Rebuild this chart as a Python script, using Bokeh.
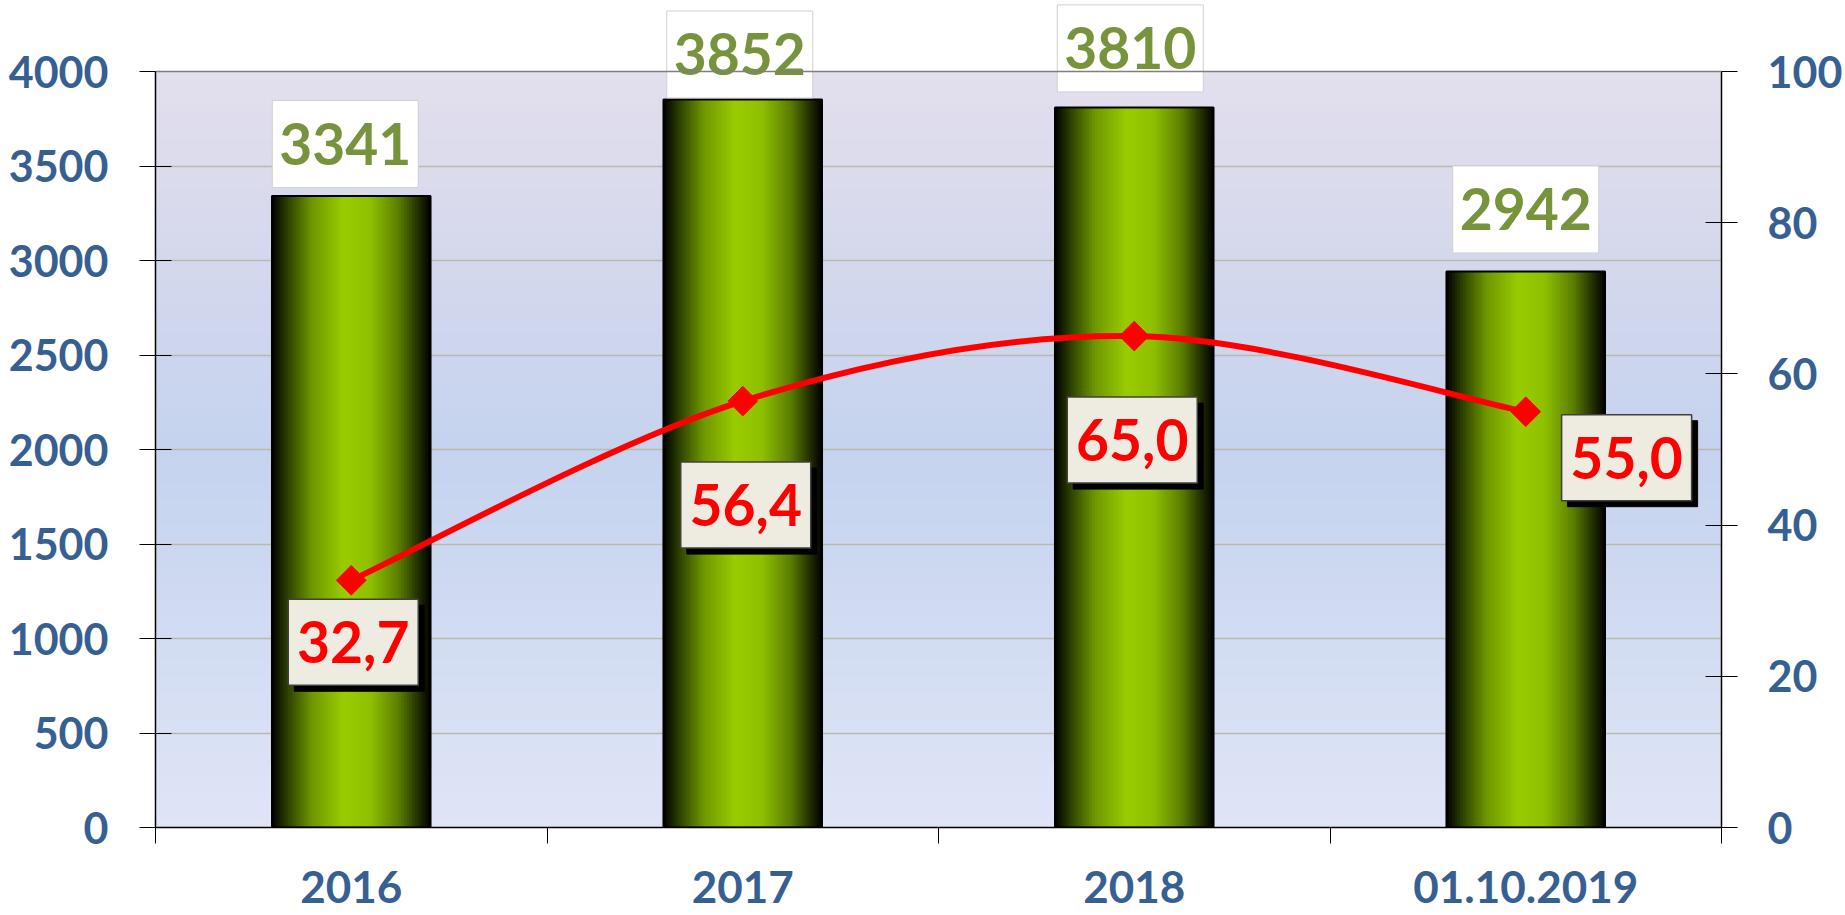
import numpy as np
from bokeh.plotting import figure
from bokeh.models import Range1d, LinearAxis, FixedTicker, Span
from bokeh.core.properties import value
from bokeh.embed import file_html
from bokeh.resources import INLINE

# ---------------- data ----------------
categories = ["2016", "2017", "2018", "01.10.2019"]
counts = [3341, 3852, 3810, 2942]
shares = [32.7, 56.4, 65.0, 55.0]
share_labels = ["32,7", "56,4", "65,0", "55,0"]
left_ticks = [0, 500, 1000, 1500, 2000, 2500, 3000, 3500, 4000]
right_ticks = [0, 20, 40, 60, 80, 100]

# ---------------- style / layout ----------------
W, H = 1845, 915
B_LEFT, B_RIGHT, B_BOTTOM = 155, 122, 88
TOP_GAP = 71                       # px between canvas top and the 4000 level
FRAME_H = H - B_BOTTOM
PLOT_H = FRAME_H - TOP_GAP
Y_MAX, R_MAX = 4000, 100
PX_Y = PLOT_H / Y_MAX
PX_R = PLOT_H / R_MAX
BAR_W = 0.405
BLUE = "#376092"
GREEN_TXT = "#77933c"
RED = "#ff0000"
FONT = "Lato"

GREEN_DX = [-6, -3, -4, 0]        # px
GREEN_DY = [52, 45, 59, 62]       # px above bar top
RED_DX = [2, 3, -2, 101]          # px
RED_DY = [-62, -104, -104, -46]   # px (negative = below point)
PX_X = (W - B_LEFT - B_RIGHT) / len(categories)

BAR_STOPS = [(0.0, (0, 0, 0)), (0.1, (45, 65, 0)), (0.25, (110, 150, 0)),
             (0.45, (153, 204, 0)), (0.62, (143, 192, 0)), (0.8, (92, 126, 0)),
             (0.92, (35, 50, 0)), (1.0, (0, 0, 0))]
BG_STOPS = [(0.0, (223, 229, 245)), (0.25, (210, 220, 242)), (0.5, (197, 211, 238)),
            (0.75, (212, 216, 236)), (1.0, (227, 223, 237))]


def grad(stops, t):
    ts = [s[0] for s in stops]
    rgb = [int(round(np.interp(t, ts, [s[1][c] for s in stops]))) for c in range(3)]
    return "#%02x%02x%02x" % tuple(rgb)


p = figure(width=W, height=H, output_backend="svg", toolbar_location=None,
           x_range=Range1d(0, len(categories)),
           y_range=Range1d(0, Y_MAX * FRAME_H / PLOT_H),
           min_border_left=B_LEFT, min_border_right=B_RIGHT,
           min_border_top=0, min_border_bottom=B_BOTTOM)
p.extra_y_ranges = {"right": Range1d(0, R_MAX * FRAME_H / PLOT_H)}
p.background_fill_color = "white"
p.border_fill_color = "white"
p.outline_line_color = None

# background gradient of the plot area
NB = 90
bb, bt, bc = [], [], []
for k in range(NB):
    bb.append(Y_MAX * k / NB)
    bt.append(Y_MAX * (k + 1.3) / NB if k < NB - 1 else Y_MAX)
    bc.append(grad(BG_STOPS, (k + 0.5) / NB))
p.quad(left=0, right=len(categories), bottom=bb, top=bt, fill_color=bc,
       line_color=None, level="image")

# grid
p.xgrid.visible = False
p.ygrid.ticker = FixedTicker(ticks=left_ticks[1:-1])
p.ygrid.grid_line_color = "#b6bbae"
p.ygrid.grid_line_width = 1.5
p.add_layout(Span(location=Y_MAX, dimension="width", line_color="#7f7f7f", line_width=1.5))

# bars with horizontal gradient
NS = 60
sl, sr, st, sc = [], [], [], []
for i, v in enumerate(counts):
    x0 = i + 0.5 - BAR_W / 2
    for k in range(NS):
        sl.append(x0 + BAR_W * k / NS)
        sr.append(min(x0 + BAR_W * (k + 1.6) / NS, x0 + BAR_W))
        st.append(v)
        sc.append(grad(BAR_STOPS, (k + 0.5) / NS))
p.quad(left=sl, right=sr, bottom=0, top=st, fill_color=sc, line_color=None)
xc = [i + 0.5 for i in range(len(categories))]
p.vbar(x=xc, width=BAR_W, top=counts, bottom=0, fill_color=None,
       line_color="black", line_width=2)

# green value labels
gx = [x + dx / PX_X for x, dx in zip(xc, GREEN_DX)]
gy = [v + dy / PX_Y for v, dy in zip(counts, GREEN_DY)]
p.rect(x=gx, y=gy, width=146, height=87, width_units="screen", height_units="screen",
       fill_color="white", line_color="#d0d0d0", line_width=1)
p.text(x=gx, y=gy, text=[str(v) for v in counts], text_align="center",
       text_baseline="middle", text_color=GREEN_TXT, text_font=value(FONT),
       text_font_style="bold", text_font_size="57px")

# smooth red line (Catmull-Rom style Bezier through the points)
n = len(shares)
cx0, cy0, cx1, cy1 = [], [], [], []
for i in range(n - 1):
    pm = i - 1 if i > 0 else i
    pp = i + 2 if i + 2 < n else i + 1
    cx0.append(xc[i] + (xc[i + 1] - xc[pm]) / 6)
    cy0.append(shares[i] + (shares[i + 1] - shares[pm]) / 6)
    cx1.append(xc[i + 1] - (xc[pp] - xc[i]) / 6)
    cy1.append(shares[i + 1] - (shares[pp] - shares[i]) / 6)
p.bezier(x0=xc[:-1], y0=shares[:-1], x1=xc[1:], y1=shares[1:],
         cx0=cx0, cy0=cy0, cx1=cx1, cy1=cy1, line_color=RED, line_width=6,
         y_range_name="right")
p.scatter(x=xc, y=shares, marker="square", angle=np.pi / 4, size=21,
          fill_color=RED, line_color=RED, y_range_name="right")

# red value labels with shadow
rx = [x + dx / PX_X for x, dx in zip(xc, RED_DX)]
ry = [v + dy / PX_R for v, dy in zip(shares, RED_DY)]
sx = [x + 6 / PX_X for x in rx]
sy = [y - 6 / PX_R for y in ry]
p.rect(x=sx, y=sy, width=130, height=86, width_units="screen", height_units="screen",
       fill_color="black", line_color="black", y_range_name="right")
p.rect(x=rx, y=ry, width=130, height=86, width_units="screen", height_units="screen",
       fill_color="#eeece1", line_color="#404040", line_width=1.5, y_range_name="right")
p.text(x=rx, y=ry, text=share_labels, text_align="center", text_baseline="middle",
       text_color=RED, text_font=value(FONT), text_font_style="bold",
       text_font_size="57px", y_range_name="right")

# axes
ya = p.yaxis[0]
ya.ticker = FixedTicker(ticks=left_ticks)
ya.bounds = (0, Y_MAX)
ya.axis_line_color = "black"
ya.axis_line_width = 1.5
ya.major_tick_in = 16
ya.major_tick_out = 16
ya.major_tick_line_color = "black"
ya.minor_tick_line_color = None
ya.major_label_standoff = 31
ya.major_label_text_font = FONT
ya.major_label_text_font_style = "bold"
ya.major_label_text_font_size = "43px"
ya.major_label_text_color = BLUE

ra = LinearAxis(y_range_name="right", ticker=FixedTicker(ticks=right_ticks), bounds=(0, R_MAX))
ra.axis_line_color = "black"
ra.axis_line_width = 1.5
ra.major_tick_in = 16
ra.major_tick_out = 16
ra.major_tick_line_color = "black"
ra.minor_tick_line_color = None
ra.major_label_standoff = 30
ra.major_label_text_font = FONT
ra.major_label_text_font_style = "bold"
ra.major_label_text_font_size = "43px"
ra.major_label_text_color = BLUE
p.add_layout(ra, "right")

xa = p.xaxis[0]
xa.ticker = FixedTicker(ticks=xc, minor_ticks=list(range(len(categories) + 1)))
xa.major_label_overrides = {x: c for x, c in zip(xc, categories)}
xa.major_tick_in = 0
xa.major_tick_out = 0
xa.minor_tick_in = 0
xa.minor_tick_out = 16
xa.minor_tick_line_color = "black"
xa.axis_line_color = "black"
xa.axis_line_width = 1.5
xa.major_label_standoff = 27
xa.major_label_text_font = FONT
xa.major_label_text_font_style = "bold"
xa.major_label_text_font_size = "44px"
xa.major_label_text_color = BLUE

open("out.html", "w").write(file_html(p, INLINE))
